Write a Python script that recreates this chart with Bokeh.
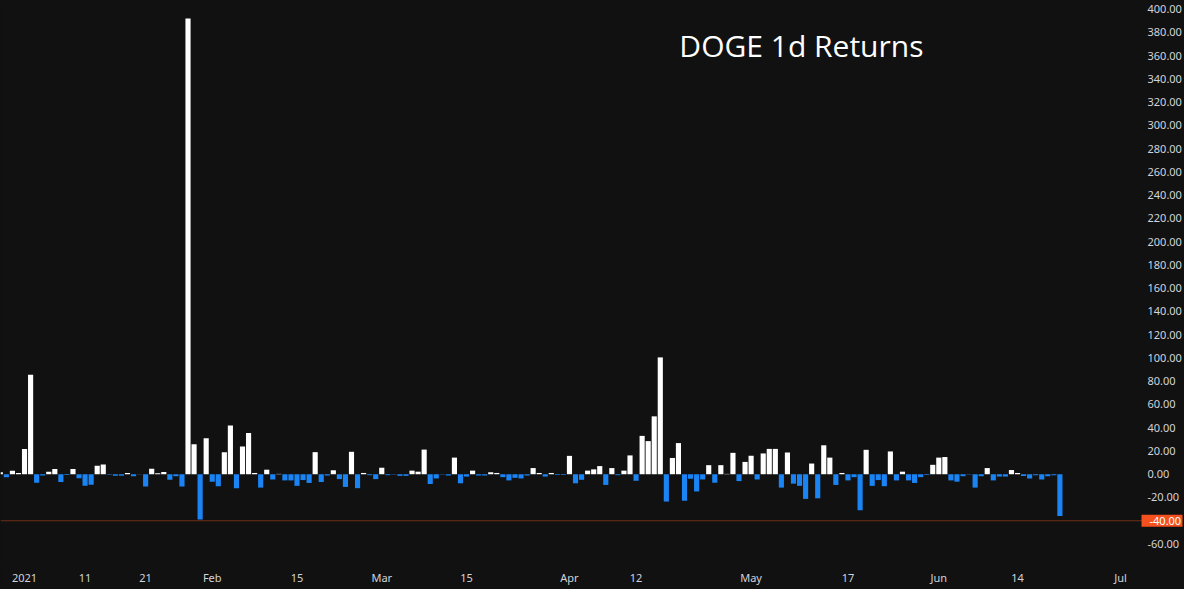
import pandas as pd
from bokeh.plotting import figure
from bokeh.models import ColumnDataSource, FixedTicker, Span, Label, PrintfTickFormatter, Range1d
from bokeh.embed import file_html
from bokeh.resources import INLINE

# ---------------- data ----------------
start_date = "2020-12-28"
ret_dec = [1.7, -2.5, 3.1, 1.1]
ret_jan = [21.8, 85.5, -7.3, -1.1, 2.2, 4.5, -6.7, -0.6, 4.5, -3.4,
           -10.0, -9.0, 7.3, 8.4, -0.5, -1.4, -1.4, 1.1, -1.7, -0.3,
           -10.6, 4.7, 0.8, 2.0, -4.7, -1.7, -10.6, 392.0, 25.7, -39.0, 31.0]
ret_feb = [-6.4, -10.3, 19.0, 42.0, -12.0, 23.8, 35.5, 1.1, -11.5, 3.9,
           -4.5, 0.3, -5.3, -5.3, -10.0, -5.0, -7.5, 19.0, -6.7, -1.1,
           3.4, -4.2, -10.9, 19.3, -12.0, 1.1, -0.8, -4.2]
ret_mar = [5.6, -0.8, -0.3, -1.4, -1.4, 3.1, 2.2, 21.2, -8.4, -3.6,
           -0.3, -1.1, 14.3, -7.8, -2.0, 3.1, -1.1, -1.1, 1.7, 1.1,
           -2.5, -5.3, -3.1, -3.6, -1.1, 5.3, 1.1, -2.0, 1.1, -0.6, -0.6]
ret_apr = [15.8, -7.8, -4.8, 3.1, 4.2, 7.0, -9.2, 5.3, -0.8, 3.1,
           16.2, -5.6, 33.0, 28.5, 49.8, 100.5, -23.5, 14.0, 26.8, -22.8,
           -3.9, -14.8, -4.5, 7.8, -7.3, 7.8, 0.3, 18.4, -5.9, 10.6]
ret_may = [15.9, -4.5, 17.9, 21.8, 21.8, -11.5, 18.7, -8.1, -10.0, -21.2,
           9.2, -20.7, 24.9, 14.3, -9.2, 1.1, -5.3, -2.5, -31.0, 21.0,
           -10.0, -5.0, -10.3, 19.6, -5.3, 2.2, -5.3, -7.5, -2.5, -0.6, 8.1]
ret_jun = [14.3, 14.8, -5.3, -6.4, -1.7, -0.3, -11.5, -1.7, 5.3, -5.3,
           -2.0, -2.0, 3.6, 1.1, -1.5, -3.6, -0.8, -4.5, -1.7, -0.8, -36.0]

tick_dates = ["2021-01-01", "2021-01-11", "2021-01-21", "2021-02-01", "2021-02-15",
              "2021-03-01", "2021-03-15", "2021-04-01", "2021-04-12", "2021-05-01",
              "2021-05-17", "2021-06-01", "2021-06-14", "2021-07-01"]
tick_labels = ["2021", "11", "21", "Feb", "15", "Mar", "15", "Apr", "12", "May",
               "17", "Jun", "14", "Jul"]
y_ticks = list(range(-80, 401, 20))
hline_value = -40.0
hline_label = "-40.00"
title_text = "DOGE 1d Returns"

# ---------------- build ----------------
returns = ret_dec + ret_jan + ret_feb + ret_mar + ret_apr + ret_may + ret_jun
origin = pd.Timestamp("2021-01-01")
dates = pd.date_range(start_date, periods=len(returns), freq="D")
days = [(d - origin).days for d in dates]
tick_days = [(pd.Timestamp(t) - origin).days for t in tick_dates]

BG = "#111111"
WHITE = "#ffffff"
BLUE = "#1a84f5"
TXT = "#d1d4dc"

colors = [WHITE if r >= 0 else BLUE for r in returns]
src = ColumnDataSource(dict(x=days, top=returns, color=colors))

W, H = 1184, 589
BOTTOM = 24
PX_PER_DAY = 6.065
x_start = -3.97
x_end = x_start + W / PX_PER_DAY

p = figure(width=W, height=H, output_backend="svg", toolbar_location=None,
           x_range=Range1d(x_start, x_end), y_range=Range1d(-78.5, 407.5),
           y_axis_location="right",
           background_fill_color=BG, border_fill_color=BG,
           min_border_left=0, min_border_top=0,
           min_border_right=0, min_border_bottom=BOTTOM)
p.outline_line_color = None
p.styles = {"background-color": BG}

p.vbar(x="x", top="top", bottom=0, width=0.85, source=src,
       fill_color="color", line_color=None)

p.grid.visible = False

for ax in p.axis:
    ax.axis_line_color = None
    ax.major_tick_line_color = None
    ax.minor_tick_line_color = None
    ax.major_tick_out = 0
    ax.major_tick_in = 0
    ax.minor_tick_out = 0
    ax.minor_tick_in = 0
    ax.major_label_text_color = TXT
    ax.major_label_text_font = "Noto Sans"
    ax.major_label_text_font_size = "11px"

xa = p.xaxis[0]
xa.ticker = FixedTicker(ticks=tick_days)
xa.major_label_overrides = {d: l for d, l in zip(tick_days, tick_labels)}
xa.major_label_standoff = 4

ya = p.yaxis[0]
ya.ticker = FixedTicker(ticks=y_ticks)
ya.formatter = PrintfTickFormatter(format="%.2f")
ya.major_label_overrides = {int(hline_value): ""}
ya.major_label_standoff = -35

p.add_layout(Span(location=hline_value, dimension="width",
                  line_color="#6e2f14", line_width=1))

p.add_layout(Label(x=W - 43, x_units="screen", y=hline_value, y_units="data",
                   text=hline_label,
                   text_color="#ffffff", text_font="Noto Sans", text_font_size="11px",
                   text_baseline="middle", text_align="left",
                   background_fill_color="#f4511e",
                   padding=dict(left=8, right=3, top=2, bottom=2)))

p.add_layout(Label(x=108.15, y=369.0, text=title_text, text_color="#ffffff",
                   text_font="Open Sans", text_font_size="30px",
                   text_baseline="alphabetic", text_align="left"))

open("out.html", "w").write(file_html(p, INLINE))
